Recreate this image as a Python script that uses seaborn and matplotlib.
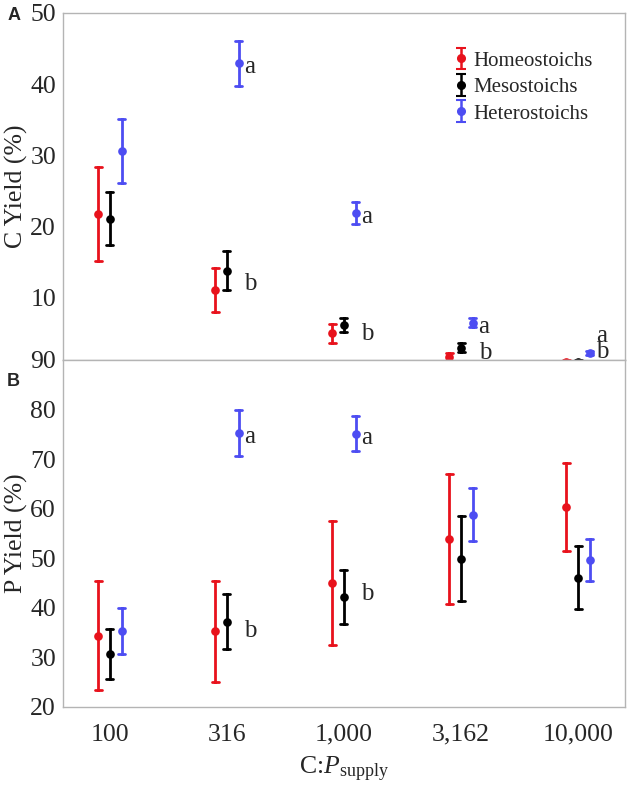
import numpy as np
import pandas as pd
import matplotlib.pyplot as plt
import seaborn as sns
from matplotlib.legend_handler import HandlerErrorbar

# C:P supply ratios (x axis categories)
supply = ["100", "316", "1,000", "3,162", "10,000"]
groups = ["Homeostoichs", "Mesostoichs", "Heterostoichs"]
colors = ["#e8121c", "#000000", "#4d4df2"]

# Panel A - C yield (%), mean and half error bar
c_homeo = [21.7, 11.1, 5.0, 1.6, 1.0]
c_homeo_err = [6.6, 3.1, 1.3, 0.6, 0.3]
c_meso = [21.1, 13.8, 6.2, 3.0, 1.0]
c_meso_err = [3.7, 2.7, 1.0, 0.7, 0.3]
c_hetero = [30.6, 42.9, 21.9, 6.5, 2.2]
c_hetero_err = [4.5, 3.2, 1.6, 0.6, 0.3]

# Panel B - P yield (%)
p_homeo = [34.4, 35.3, 45.0, 53.9, 60.3]
p_homeo_err = [11.0, 10.2, 12.6, 13.1, 8.9]
p_meso = [30.7, 37.2, 42.2, 49.9, 46.1]
p_meso_err = [5.0, 5.5, 5.5, 8.6, 6.4]
p_hetero = [35.3, 75.3, 75.1, 58.8, 49.7]
p_hetero_err = [4.7, 4.7, 3.5, 5.3, 4.2]

# significance letters: (letter, supply index, baseline value)
c_letters = [("a", 1, 41.5), ("b", 1, 11.1), ("a", 2, 20.5), ("b", 2, 4.1),
             ("a", 3, 5.0), ("b", 3, 1.4), ("a", 4, 3.8), ("b", 4, 1.5)]
p_letters = [("a", 1, 73.3), ("b", 1, 34.2), ("a", 2, 73.1), ("b", 2, 41.6)]


def long_table(means, errs):
    # two rows per point (low / high end), so the mean is the point and min/max the bar
    rows = []
    for g, m, e in zip(groups, means, errs):
        for s, mv, ev in zip(supply, m, e):
            rows.append({"supply": s, "group": g, "value": mv - ev})
            rows.append({"supply": s, "group": g, "value": mv + ev})
    return pd.DataFrame(rows)


df_c = long_table([c_homeo, c_meso, c_hetero], [c_homeo_err, c_meso_err, c_hetero_err])
df_p = long_table([p_homeo, p_meso, p_hetero], [p_homeo_err, p_meso_err, p_hetero_err])

sns.set_style("white")
plt.rcParams["font.family"] = ["Liberation Serif", "DejaVu Serif"]
plt.rcParams["mathtext.fontset"] = "custom"
plt.rcParams["mathtext.rm"] = "Liberation Serif"
plt.rcParams["mathtext.it"] = "Liberation Serif:italic"

fig = plt.figure(figsize=(6.3, 7.87), dpi=100)
axA = fig.add_axes([0.1, 0.5426, 0.892, 0.441])
axB = fig.add_axes([0.1, 0.1017, 0.892, 0.4409])

for ax, df in [(axA, df_c), (axB, df_p)]:
    sns.pointplot(data=df, x="supply", y="value", hue="group", order=supply,
                  hue_order=groups, palette=colors, estimator="mean",
                  errorbar=lambda v: (v.min(), v.max()), dodge=0.2,
                  markers="o", linestyles="none", markersize=4.2, capsize=0.06,
                  err_kws={"linewidth": 2}, legend=False, ax=ax)
    ax.set_xlim(-0.4, 4.4)
    for side in ["left", "right", "top", "bottom"]:
        ax.spines[side].set_color("#b4b4b4")
        ax.spines[side].set_linewidth(1)
    ax.tick_params(axis="x", direction="inout", length=6, width=0.8,
                   color="#999999", labelsize=18.5, pad=9)
    ax.tick_params(axis="y", which="major", direction="in", length=3, width=0.6,
                   color="#d8d8d8", labelsize=18.5, pad=5)
    ax.tick_params(axis="y", which="minor", direction="in", length=2, width=0.5,
                   color="#e4e4e4")
    ax.set_xlabel("")

# panel A
axA.set_ylim(1.25, 50)
axA.set_yticks([10, 20, 30, 40, 50])
axA.set_yticks(np.arange(2, 50, 1), minor=True)
axA.set_xticklabels([])
axA.set_ylabel("C Yield (%)", fontsize=18.5)
axA.yaxis.set_label_coords(-0.062, 0.5)
for letter, i, y in c_letters:
    axA.text(i + 0.15, y, letter, fontsize=18, va="baseline", ha="left")

handles = []
for g, c in zip(groups, colors):
    h = axA.errorbar([np.nan], [np.nan], yerr=[[1], [1]], fmt="o", color=c,
                     ms=5.5, capsize=3.5, elinewidth=1.8, capthick=1.5, label=g)
    handles.append(h)
axA.legend(handles=handles, loc="upper left", bbox_to_anchor=(0.694, 0.89),
           frameon=False, fontsize=15, handlelength=0.8, handletextpad=0.2,
           labelspacing=0.33, borderpad=0, borderaxespad=0,
           handler_map={type(handles[0]): HandlerErrorbar(xerr_size=0.5, yerr_size=0.52)})

# panel B
axB.set_ylim(20, 90)
axB.set_yticks(np.arange(20, 91, 10))
axB.set_yticks(np.arange(21, 90, 1), minor=True)
axB.set_ylabel("P Yield (%)", fontsize=18.5)
axB.yaxis.set_label_coords(-0.062, 0.5)
axB.set_xlabel(r"C:$\mathit{P}_{\mathrm{supply}}$", fontsize=18.5, labelpad=7)
for letter, i, y in p_letters:
    axB.text(i + 0.15, y, letter, fontsize=18, va="baseline", ha="left")

fig.text(0.022, 0.98, "A", fontsize=13, fontweight="bold", family="Liberation Sans",
         va="center", ha="center")
fig.text(0.021, 0.515, "B", fontsize=13, fontweight="bold", family="Liberation Sans",
         va="center", ha="center")

fig.savefig("out.png", dpi=100)
